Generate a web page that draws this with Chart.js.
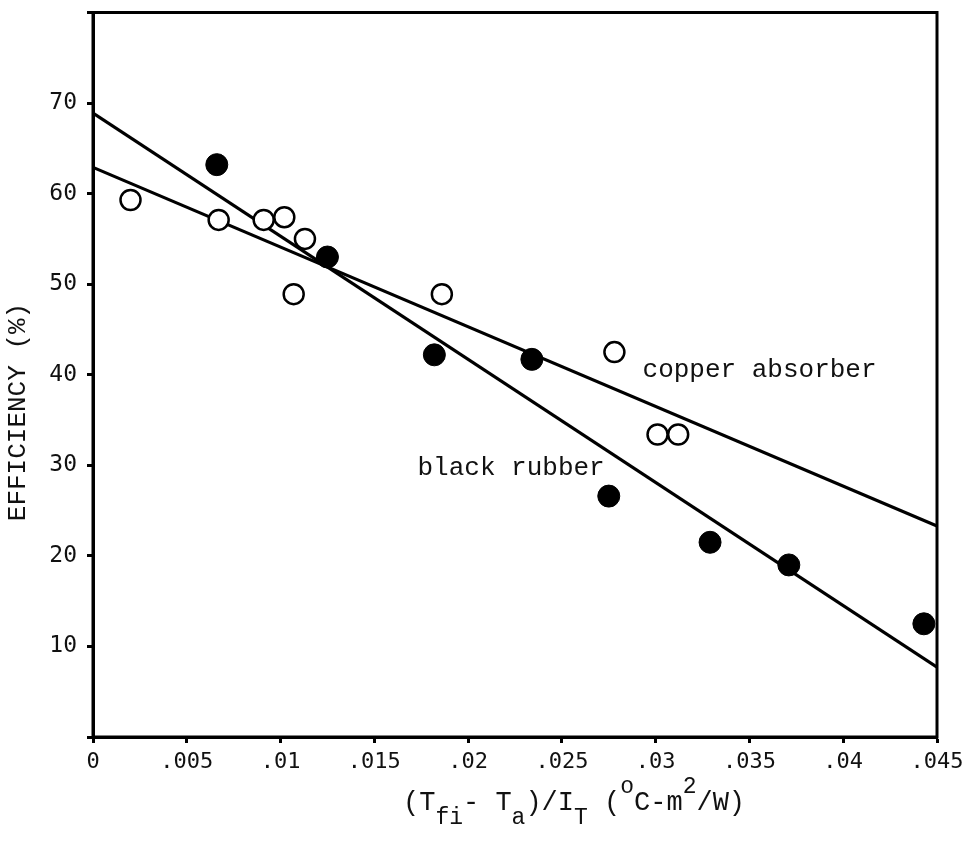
<!DOCTYPE html>
<html>
<head>
<meta charset="utf-8">
<script src="https://cdn.jsdelivr.net/npm/chart.js@4/dist/chart.umd.min.js"></script>
<style>
  html, body { margin: 0; padding: 0; background: #fff; }
  canvas { display: block; }
</style>
</head>
<body>
<canvas id="c" width="971" height="841"></canvas>
<script>
// ---- data ----
const copperX = [0.0020, 0.0067, 0.0091, 0.0102, 0.0113, 0.0107, 0.0186, 0.0278, 0.0301, 0.0312];
const copperY = [59.3, 57.1, 57.1, 57.4, 55.0, 48.9, 48.9, 42.5, 33.4, 33.4];
const rubberX = [0.0066, 0.0125, 0.0182, 0.0234, 0.0275, 0.0329, 0.0371, 0.0443];
const rubberY = [63.2, 53.0, 42.2, 41.7, 26.6, 21.5, 19.0, 12.5];
const fitX = [0, 0.045];
const copperFitY = [62.9, 23.3];
const rubberFitY = [68.9, 7.7];
const xTickValues = [0, 0.005, 0.01, 0.015, 0.02, 0.025, 0.03, 0.035, 0.04, 0.045];
const xTickLabels = ['0', '.005', '.01', '.015', '.02', '.025', '.03', '.035', '.04', '.045'];
const yTickValues = [0, 10, 20, 30, 40, 50, 60, 70, 80];
const yTickLabels = ['', '10', '20', '30', '40', '50', '60', '70', ''];
const yTitle = 'EFFICIENCY (%)';
const xTitleParts = [['(T', 'main'], ['fi', 'sub'], ['- T', 'main'], ['a', 'sub'], [')/I', 'main'], ['T', 'sub'], [' (', 'main'], ['o', 'sup'], ['C-m', 'main'], ['2', 'sup'], ['/W)', 'main']];
const labelCopper = { text: 'copper absorber', x: 0.0293, y: 39.8 };
const labelRubber = { text: 'black rubber', x: 0.0173, y: 28.9 };

const pts = (xs, ys) => xs.map((x, i) => ({ x: x, y: ys[i] }));

const framePlugin = {
  id: 'frameAndText',
  afterDraw(chart) {
    const ctx = chart.ctx;
    const a = chart.chartArea;
    const xs = chart.scales.x, ys = chart.scales.y;
    ctx.save();
    ctx.strokeStyle = '#000';
    ctx.lineWidth = 3;
    ctx.strokeRect(a.left, a.top, a.right - a.left, a.bottom - a.top);

    ctx.fillStyle = '#111';
    ctx.font = '26px "Liberation Mono"';
    ctx.textBaseline = 'alphabetic';
    ctx.textAlign = 'left';
    [labelCopper, labelRubber].forEach(l => {
      ctx.fillText(l.text, xs.getPixelForValue(l.x), ys.getPixelForValue(l.y));
    });

    // y title
    ctx.save();
    ctx.translate(18, 412);
    ctx.rotate(-Math.PI / 2);
    ctx.textAlign = 'center';
    ctx.textBaseline = 'middle';
    ctx.font = '26px "Liberation Mono"';
    ctx.fillText(yTitle, 0, 0);
    ctx.restore();

    // x title with sub/superscripts
    let cx = a.left + 310;
    const base = 810;
    xTitleParts.forEach(([t, kind]) => {
      let y = base;
      if (kind === 'main') ctx.font = '27px "Liberation Mono"';
      else ctx.font = '23px "Liberation Mono"';
      if (kind === 'sub') y = base + 14;
      if (kind === 'sup') y = base - 17;
      ctx.fillText(t, cx, y);
      cx += ctx.measureText(t).width;
    });
    ctx.restore();
  }
};

new Chart(document.getElementById('c'), {
  type: 'scatter',
  data: {
    datasets: [
      {
        label: 'copper absorber',
        data: pts(copperX, copperY),
        pointStyle: 'circle',
        pointRadius: 10,
        pointBorderWidth: 2.5,
        pointBackgroundColor: '#fff',
        pointBorderColor: '#000',
        order: 1
      },
      {
        label: 'black rubber',
        data: pts(rubberX, rubberY),
        pointStyle: 'circle',
        pointRadius: 11,
        pointBorderWidth: 1,
        pointBackgroundColor: '#000',
        pointBorderColor: '#000',
        order: 1
      },
      {
        label: 'copper fit',
        type: 'line',
        data: pts(fitX, copperFitY),
        borderColor: '#000',
        borderWidth: 3.2,
        pointRadius: 0,
        fill: false,
        order: 2
      },
      {
        label: 'rubber fit',
        type: 'line',
        data: pts(fitX, rubberFitY),
        borderColor: '#000',
        borderWidth: 3.2,
        pointRadius: 0,
        fill: false,
        order: 2
      }
    ]
  },
  options: {
    responsive: false,
    animation: false,
    layout: { padding: { left: 0, top: 12, right: 34, bottom: 0 } },
    plugins: { legend: { display: false }, tooltip: { enabled: false } },
    scales: {
      x: {
        type: 'linear',
        min: 0, max: 0.045,
        afterBuildTicks: s => { s.ticks = xTickValues.map(v => ({ value: v })); },
        afterFit: s => { s.height = 104; s.paddingLeft = 0; s.paddingRight = 0; },
        border: { display: true, color: '#000', width: 3 },
        grid: { drawOnChartArea: false, drawTicks: true, tickLength: 6, tickWidth: 3, tickColor: '#000' },
        ticks: {
          color: '#111',
          font: { family: '"DejaVu Sans Mono"', size: 22 },
          padding: 6,
          maxRotation: 0,
          autoSkip: false,
          callback: (v, i) => xTickLabels[i]
        }
      },
      y: {
        type: 'linear',
        min: 0, max: 80,
        afterBuildTicks: s => { s.ticks = yTickValues.map(v => ({ value: v })); },
        afterFit: s => { s.width = 93; s.paddingTop = 0; s.paddingBottom = 0; },
        border: { display: true, color: '#000', width: 3 },
        grid: { drawOnChartArea: false, drawTicks: true, tickLength: 6, tickWidth: 3, tickColor: '#000' },
        ticks: {
          color: '#111',
          font: { family: '"DejaVu Sans Mono"', size: 23 },
          padding: 10,
          autoSkip: false,
          callback: (v, i) => yTickLabels[i]
        }
      }
    }
  },
  plugins: [framePlugin]
});
</script>
</body>
</html>
